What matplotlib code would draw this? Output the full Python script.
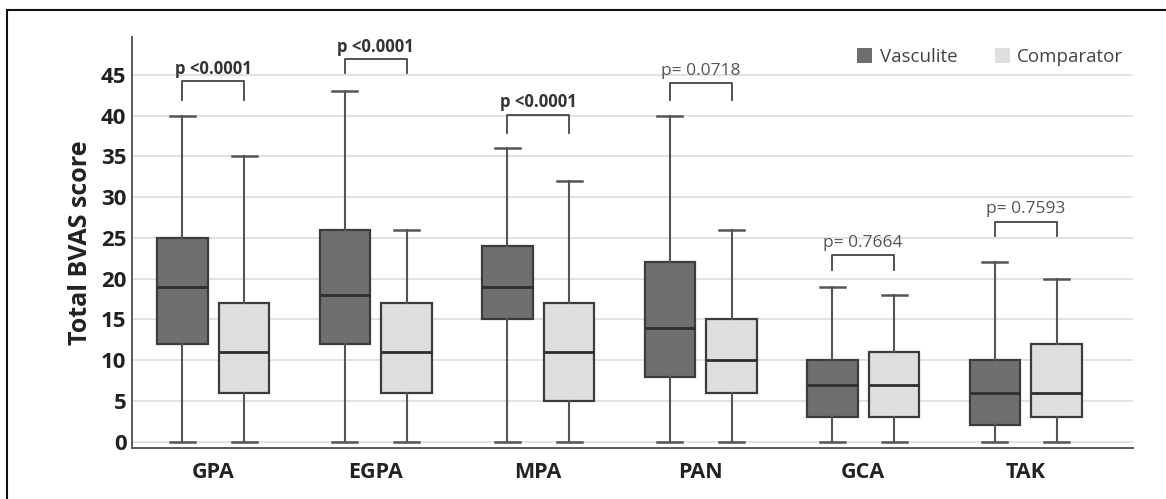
import matplotlib.pyplot as plt
from matplotlib.patches import Patch, Rectangle

plt.rcParams['font.family'] = ['Open Sans', 'DejaVu Sans']

# data
groups = ['GPA', 'EGPA', 'MPA', 'PAN', 'GCA', 'TAK']
# (min, q1, median, q3, max)
vasculite = [
    (0, 12, 19, 25, 40),
    (0, 12, 18, 26, 43),
    (0, 15, 19, 24, 36),
    (0, 8, 14, 22, 40),
    (0, 3, 7, 10, 19),
    (0, 2, 6, 10, 22),
]
comparator = [
    (0, 6, 11, 17, 35),
    (0, 6, 11, 17, 26),
    (0, 5, 11, 17, 32),
    (0, 6, 10, 15, 26),
    (0, 3, 7, 11, 18),
    (0, 3, 6, 12, 20),
]
p_labels = ['p <0.0001', 'p <0.0001', 'p <0.0001', 'p= 0.0718', 'p= 0.7664', 'p= 0.7593']
p_bold = [True, True, True, False, False, False]
bracket_top = [44.2, 46.9, 40.1, 44.0, 22.9, 27.0]
bracket_leg = [41.9, 45.2, 37.9, 41.9, 21.1, 25.3]
yticks = list(range(0, 50, 5))

dark_fill = '#6f6f6f'
light_fill = '#dedede'
edge = '#3c3c3c'

fig = plt.figure(figsize=(11.66, 4.99), dpi=100)
ax = fig.add_axes([0.1132, 0.1022, 0.8585, 0.8237])

offset = 0.19
box_w = 0.31


def to_stats(vals, label):
    lo, q1, med, q3, hi = vals
    return dict(label=label, whislo=lo, q1=q1, med=med, q3=q3, whishi=hi, fliers=[])


for series, sign, fill in [(vasculite, -1, dark_fill), (comparator, 1, light_fill)]:
    stats = [to_stats(v, g) for v, g in zip(series, groups)]
    pos = [i + sign * offset for i in range(len(groups))]
    ax.bxp(stats, positions=pos, widths=box_w, patch_artist=True, showfliers=False,
           capwidths=0.155,
           boxprops=dict(facecolor=fill, edgecolor=edge, linewidth=1.6),
           medianprops=dict(color='#2e2e2e', linewidth=2.0),
           whiskerprops=dict(color='#555555', linewidth=1.5),
           capprops=dict(color='#555555', linewidth=1.8),
           manage_ticks=False, zorder=3)

# significance brackets
for i, (lab, bold, top, leg) in enumerate(zip(p_labels, p_bold, bracket_top, bracket_leg)):
    x0, x1 = i - offset, i + offset
    ax.plot([x0, x0, x1, x1], [leg, top, top, leg], color='#444444', lw=1.3, zorder=4)
    ax.annotate(lab, xy=(i, top), xytext=(0, 9), textcoords='offset points',
                ha='center', va='center', fontsize=12 if bold else 12.5,
                fontweight='bold' if bold else 'normal',
                color='#333333' if bold else '#555555')

ax.set_xlim(-0.5, 5.66)
ax.set_ylim(-0.77, 49.66)
ax.set_xticks(range(len(groups)))
ax.set_xticklabels(groups, fontsize=15.5, fontweight='bold', color='#222222')
ax.set_yticks(yticks)
ax.set_yticklabels([str(t) for t in yticks], fontsize=16, fontweight='bold', color='#222222')
ax.tick_params(length=0, pad=4)
ax.tick_params(axis='x', pad=10)
ax.set_ylabel('Total BVAS score', fontsize=18, fontweight='bold', color='#222222', labelpad=6)

ax.yaxis.grid(True, color='#dadada', linewidth=1.1)
ax.set_axisbelow(True)
for s in ['top', 'right']:
    ax.spines[s].set_visible(False)
for s in ['left', 'bottom']:
    ax.spines[s].set_color('#5a5a5a')
    ax.spines[s].set_linewidth(1.4)

handles = [Patch(facecolor=dark_fill, edgecolor='none', label='Vasculite'),
           Patch(facecolor=light_fill, edgecolor='none', label='Comparator')]
ax.legend(handles=handles, loc='center right', bbox_to_anchor=(0.978, 0.886),
          bbox_transform=fig.transFigure, ncol=2, frameon=False, fontsize=13.5,
          handlelength=0.8, handleheight=0.8, handletextpad=0.4, columnspacing=2.0,
          labelcolor='#444444')

# outer frame (only left and top edges are inside the picture)
fig.add_artist(Rectangle((7 / 1166, -0.1), 1.2, 0.1 + (499 - 10) / 499,
                         transform=fig.transFigure, fill=False, edgecolor='#111111',
                         linewidth=1.5, clip_on=False))

fig.savefig('out.png', dpi=100)
